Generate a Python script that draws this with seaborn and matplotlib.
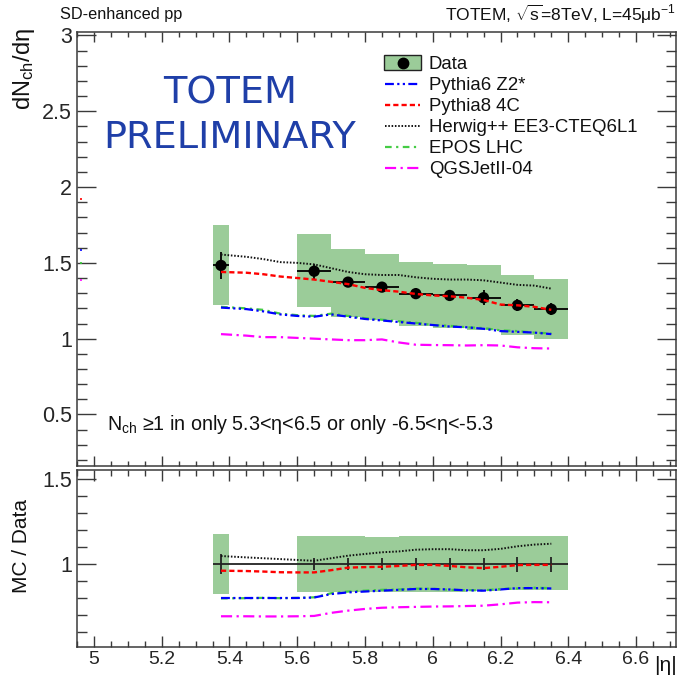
import numpy as np
import pandas as pd
import matplotlib
matplotlib.use("Agg")
import matplotlib.pyplot as plt
import seaborn as sns
from matplotlib.lines import Line2D
from matplotlib.patches import Rectangle

# ---------------- data ----------------
bin_lo = [5.35, 5.60, 5.70, 5.80, 5.90, 6.00, 6.10, 6.20, 6.30]
bin_hi = [5.40, 5.70, 5.80, 5.90, 6.00, 6.10, 6.20, 6.30, 6.40]
data_eta = [5.375, 5.65, 5.75, 5.85, 5.95, 6.05, 6.15, 6.25, 6.35]
data_val = [1.483, 1.445, 1.373, 1.340, 1.297, 1.285, 1.270, 1.220, 1.194]
data_stat = [0.088, 0.050, 0.030, 0.028, 0.035, 0.030, 0.050, 0.040, 0.040]
syst_hi = [1.753, 1.692, 1.593, 1.560, 1.505, 1.494, 1.483, 1.421, 1.395]
syst_lo = [1.224, 1.208, 1.142, 1.120, 1.083, 1.072, 1.060, 1.021, 1.000]

ratio_stat = [0.058, 0.035, 0.035, 0.035, 0.035, 0.035, 0.035, 0.044, 0.044]
ratio_syst_hi = [1.177, 1.166, 1.166, 1.158, 1.166, 1.166, 1.166, 1.166, 1.166]
ratio_syst_lo = [0.826, 0.838, 0.838, 0.838, 0.838, 0.840, 0.845, 0.848, 0.848]

mc_eta = [5.375, 5.45, 5.50, 5.55, 5.60, 5.65, 5.70, 5.75, 5.80, 5.85,
          5.90, 5.95, 6.00, 6.05, 6.10, 6.15, 6.20, 6.25, 6.30, 6.35]
pythia6 = [1.205, 1.195, 1.180, 1.160, 1.150, 1.145, 1.160, 1.145, 1.130, 1.120,
           1.110, 1.100, 1.090, 1.080, 1.075, 1.065, 1.050, 1.045, 1.040, 1.030]
pythia8 = [1.440, 1.435, 1.425, 1.410, 1.400, 1.390, 1.375, 1.360, 1.335, 1.320,
           1.310, 1.295, 1.285, 1.280, 1.270, 1.255, 1.225, 1.220, 1.210, 1.190]
herwig = [1.555, 1.540, 1.525, 1.505, 1.500, 1.490, 1.465, 1.440, 1.425, 1.420,
          1.420, 1.405, 1.395, 1.390, 1.390, 1.385, 1.370, 1.355, 1.350, 1.330]
epos = [1.210, 1.200, 1.190, 1.165, 1.155, 1.150, 1.165, 1.150, 1.135, 1.125,
        1.115, 1.105, 1.090, 1.085, 1.075, 1.070, 1.055, 1.050, 1.040, 1.035]
qgsjet = [1.030, 1.020, 1.010, 1.010, 1.005, 1.000, 0.995, 0.990, 0.990, 0.995,
          0.975, 0.960, 0.958, 0.957, 0.955, 0.957, 0.955, 0.943, 0.937, 0.935]

r_pythia6 = [0.802, 0.802, 0.802, 0.802, 0.802, 0.805, 0.825, 0.835, 0.840, 0.845,
             0.850, 0.855, 0.855, 0.852, 0.847, 0.845, 0.852, 0.860, 0.860, 0.858]
r_pythia8 = [0.962, 0.960, 0.957, 0.953, 0.952, 0.952, 0.965, 0.980, 0.983, 0.985,
             0.990, 0.996, 0.996, 0.990, 0.982, 0.977, 0.985, 0.995, 0.996, 0.996]
r_herwig = [1.048, 1.040, 1.035, 1.030, 1.025, 1.020, 1.035, 1.050, 1.060, 1.070,
            1.075, 1.085, 1.088, 1.088, 1.082, 1.082, 1.090, 1.105, 1.115, 1.120]
r_epos = [0.800, 0.801, 0.803, 0.801, 0.803, 0.806, 0.830, 0.840, 0.845, 0.850,
          0.852, 0.857, 0.856, 0.850, 0.848, 0.847, 0.855, 0.858, 0.862, 0.860]
r_qgsjet = [0.695, 0.695, 0.694, 0.694, 0.695, 0.697, 0.715, 0.728, 0.738, 0.745,
            0.748, 0.750, 0.752, 0.753, 0.755, 0.757, 0.765, 0.775, 0.778, 0.777]

# tiny marks at the left edge of the upper pad
edge_vals = [1.923, 1.588, 1.498, 1.389]
edge_cols = ["#ff0000", "#0000ff", "#33cc33", "#ff00ff"]

labels = ["Data", "Pythia6 Z2*", "Pythia8 4C", "Herwig++ EE3-CTEQ6L1", "EPOS LHC", "QGSJetII-04"]
x_ticks = [5.0, 5.2, 5.4, 5.6, 5.8, 6.0, 6.2, 6.4, 6.6]
x_ticklabels = ["5", "5.2", "5.4", "5.6", "5.8", "6", "6.2", "6.4", "6.6"]
y_ticks_top = [0.5, 1.0, 1.5, 2.0, 2.5, 3.0]
y_ticklabels_top = ["0.5", "1", "1.5", "2", "2.5", "3"]
y_ticks_bot = [1.0, 1.5]
y_ticklabels_bot = ["1", "1.5"]

# ---------------- style ----------------
sns.set_theme(style="ticks")
plt.rcParams["font.family"] = ["Liberation Sans", "DejaVu Sans"]
plt.rcParams["mathtext.fontset"] = "custom"
plt.rcParams["mathtext.rm"] = "Liberation Sans"
plt.rcParams["mathtext.it"] = "Liberation Sans:italic"
plt.rcParams["axes.linewidth"] = 1.1

GREEN = "#9bcc99"
FRAME = "#3a3a3a"
styles = {
    "Pythia6 Z2*": dict(color="#0000ff", ls=(0, (4, 1.5, 1, 1.5, 1, 1.5)), lw=1.6),
    "Pythia8 4C": dict(color="#ff0000", ls=(0, (2.2, 1.3)), lw=1.7),
    "Herwig++ EE3-CTEQ6L1": dict(color="#111111", ls=(0, (0.8, 0.9)), lw=1.4),
    "EPOS LHC": dict(color="#44cc44", ls=(0, (3, 2, 1, 2)), lw=1.6),
    "QGSJetII-04": dict(color="#ff00ff", ls=(0, (5, 2, 1, 2)), lw=1.6),
}

W, H = 678, 677
fig = plt.figure(figsize=(W / 100, H / 100), dpi=100)
fig.patch.set_facecolor("white")


def px_axes(l, t, r, b):
    return fig.add_axes([l / W, 1 - b / H, (r - l) / W, (b - t) / H])


ax = px_axes(77, 32, 676, 466)
axr = px_axes(77, 470, 676, 647)

xlim = (4.96, 6.718)
widths = [h - l for l, h in zip(bin_lo, bin_hi)]

# ---------------- top pad ----------------
ax.bar(bin_lo, [h - l for h, l in zip(syst_hi, syst_lo)], bottom=syst_lo, width=widths,
       align="edge", color=GREEN, edgecolor="none", zorder=1)
xerr = [[e - l for e, l in zip(data_eta, bin_lo)], [h - e for e, h in zip(data_eta, bin_hi)]]
ax.errorbar(data_eta, data_val, xerr=xerr, yerr=data_stat, fmt="none", ecolor="black",
            elinewidth=1.3, capsize=0, zorder=2)
sns.scatterplot(x=data_eta, y=data_val, ax=ax, color="black", s=66, edgecolor="none",
                zorder=3, legend=False)

mc_top = {"Pythia6 Z2*": pythia6, "Pythia8 4C": pythia8, "Herwig++ EE3-CTEQ6L1": herwig,
          "EPOS LHC": epos, "QGSJetII-04": qgsjet}
for name in ["EPOS LHC", "Pythia6 Z2*", "QGSJetII-04", "Herwig++ EE3-CTEQ6L1", "Pythia8 4C"]:
    st = styles[name]
    sns.lineplot(x=mc_eta, y=mc_top[name], ax=ax, color=st["color"], linestyle=st["ls"],
                 linewidth=st["lw"], zorder=4, legend=False, estimator=None, sort=False)

for v, c in zip(edge_vals, edge_cols):
    ax.hlines(v, xlim[0], xlim[0] + 0.004, color=c, lw=1.2, zorder=5)

ax.set_xlim(*xlim)
ax.set_ylim(0.16, 3.023)

# ---------------- bottom pad ----------------
axr.bar(bin_lo, [h - l for h, l in zip(ratio_syst_hi, ratio_syst_lo)], bottom=ratio_syst_lo,
        width=widths, align="edge", color=GREEN, edgecolor="none", zorder=1)
axr.hlines(1.0, bin_lo[0], bin_hi[-1], color="#222222", lw=1.3, zorder=2)
axr.errorbar(data_eta, [1.0] * len(data_eta), yerr=ratio_stat, fmt="none", ecolor="#222222",
             elinewidth=1.3, capsize=0, zorder=2)
mc_bot = {"Pythia6 Z2*": r_pythia6, "Pythia8 4C": r_pythia8, "Herwig++ EE3-CTEQ6L1": r_herwig,
          "EPOS LHC": r_epos, "QGSJetII-04": r_qgsjet}
for name in ["EPOS LHC", "Pythia6 Z2*", "QGSJetII-04", "Herwig++ EE3-CTEQ6L1", "Pythia8 4C"]:
    st = styles[name]
    sns.lineplot(x=mc_eta, y=mc_bot[name], ax=axr, color=st["color"], linestyle=st["ls"],
                 linewidth=st["lw"], zorder=4, legend=False, estimator=None, sort=False)
axr.set_xlim(*xlim)
axr.set_ylim(0.515, 1.552)

# ---------------- axes cosmetics ----------------
for a in (ax, axr):
    a.set_xlabel("")
    a.set_ylabel("")
    for s in a.spines.values():
        s.set_color(FRAME)
        s.set_linewidth(1.1)
        s.set_visible(True)
    a.set_xticks(x_ticks)
    a.set_xticks(np.arange(4.95, 6.72, 0.05), minor=True)
    a.tick_params(axis="both", which="both", direction="in", top=True, right=True,
                  color=FRAME, width=1.0)
    a.grid(False)

ax.tick_params(axis="x", which="major", length=7, labelbottom=False)
ax.tick_params(axis="x", which="minor", length=3.5)
ax.set_yticks(y_ticks_top, y_ticklabels_top)
ax.set_yticks(np.arange(0.2, 3.01, 0.1), minor=True)
ax.tick_params(axis="y", which="major", length=13.5, labelsize=15.5, pad=3.5)
ax.tick_params(axis="y", which="minor", length=7)

axr.set_xticks(x_ticks, x_ticklabels)
axr.tick_params(axis="x", which="major", length=8, labelsize=14, pad=3)
axr.tick_params(axis="x", which="minor", length=4)
axr.set_yticks(y_ticks_bot, y_ticklabels_bot)
axr.set_yticks(np.arange(0.6, 1.55, 0.1), minor=True)
axr.tick_params(axis="y", which="major", length=13.5, labelsize=15.5, pad=3.5)
axr.tick_params(axis="y", which="minor", length=7)


# ---------------- legend (drawn entry by entry in pixel positions) ----------------
def fx(x):
    return x / W


def fy(y):
    return 1 - y / H


leg_y0, leg_dy = 62.5, 21.1
leg_x0, leg_x1, leg_tx = 385, 420, 429
for i, name in enumerate(labels):
    y = leg_y0 + i * leg_dy
    if name == "Data":
        fig.add_artist(Rectangle((fx(leg_x0 - 1), fy(y + 7.5)), (leg_x1 - leg_x0 + 2) / W, 15 / H,
                                 transform=fig.transFigure, facecolor=GREEN,
                                 edgecolor="#222222", linewidth=1.0))
        fig.add_artist(Line2D([fx((leg_x0 + leg_x1) / 2)], [fy(y)], transform=fig.transFigure,
                              ls="none", marker="o", color="black", markersize=7.5))
    else:
        st = styles[name]
        fig.add_artist(Line2D([fx(leg_x0), fx(leg_x1)], [fy(y), fy(y)], transform=fig.transFigure,
                              color=st["color"], ls=st["ls"], lw=st["lw"]))
    fig.text(fx(leg_tx), fy(y), name, fontsize=13.4, ha="left", va="center_baseline",
             color="#111111")


# ---------------- texts ----------------
def ftext(x, y, s, **kw):
    fig.text(fx(x), fy(y), s, **kw)


ftext(60, 14, "SD-enhanced pp", fontsize=11.7, ha="left", va="center", color="#111111")
ftext(676, 14, r"TOTEM, $\sqrt{\mathrm{s}}$=8TeV, L=45$\mathrm{\mu}$b$^{-1}$", fontsize=12.5,
      ha="right", va="center", color="#111111")
ftext(230, 93.5, "TOTEM", fontsize=27.5, ha="center", va="center", color="#1f3fa8",
      family="DejaVu Sans")
ftext(230, 138.5, "PRELIMINARY", fontsize=27.5, ha="center", va="center", color="#1f3fa8",
      family="DejaVu Sans")
ftext(107, 425, "N$_{\\mathrm{ch}}$ \u22651 in only 5.3<\u03b7<6.5 or only -6.5<\u03b7<-5.3",
      fontsize=14.2, ha="left", va="center", color="#111111")
ftext(24, 28, "dN$_{\\mathrm{ch}}$/d\u03b7", fontsize=17, rotation=90, ha="center", va="top",
      color="#111111")
ftext(22, 546, "MC / Data", fontsize=15, rotation=90, ha="center", va="center", color="#111111")
ftext(677, 656, "|\u03b7|", fontsize=15, ha="right", va="top", color="#111111")

fig.savefig("out.png", dpi=100, facecolor="white")
